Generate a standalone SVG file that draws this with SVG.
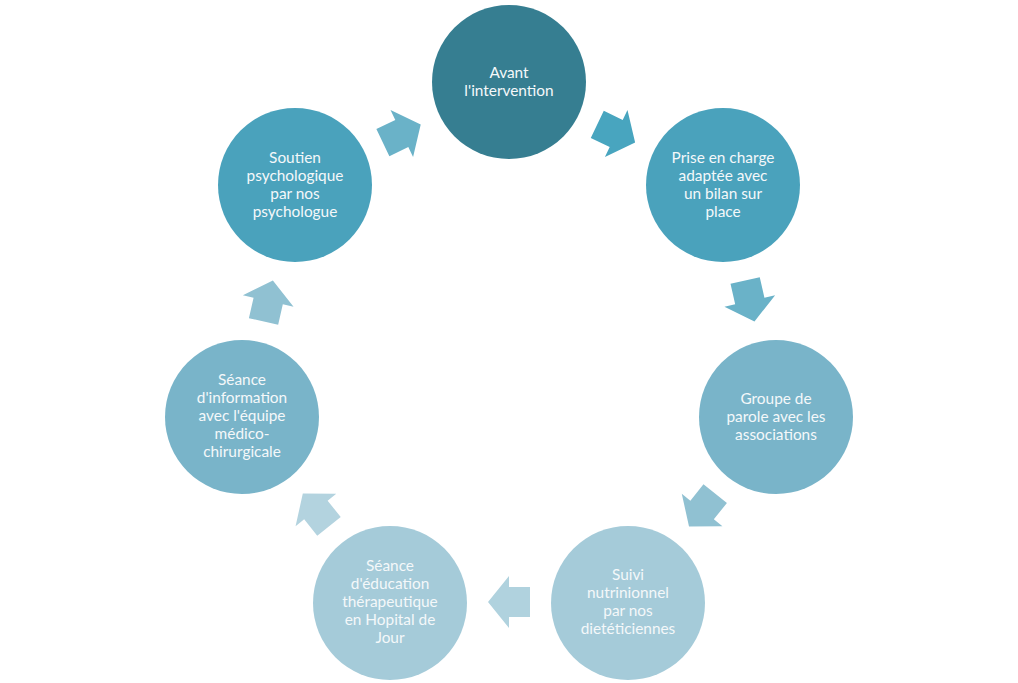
<svg xmlns="http://www.w3.org/2000/svg" xmlns:xlink="http://www.w3.org/1999/xlink" width="1018" height="683" viewBox="0 0 1018 683">
<style>
text{font-family:Lato,"Open Sans","Liberation Sans",sans-serif;font-size:15.4px;fill:#F4F8FA;text-anchor:middle}
</style>
<defs>
<polygon id="arr" points="-21,-15 0,-15 0,-26 21,0 0,26 0,15 -21,15"/>
</defs>
<rect width="1018" height="683" fill="#ffffff"/>
<g id="connectors">
<use xlink:href="#arr" transform="translate(616.2,133.5) rotate(25.71)" fill="#48A5BF"/>
<use xlink:href="#arr" transform="translate(749.8,301) rotate(77.14)" fill="#6AB2C8"/>
<use xlink:href="#arr" transform="translate(702.1,510) rotate(128.57)" fill="#90C1D2"/>
<use xlink:href="#arr" transform="translate(509,602) rotate(180)" fill="#B0D2DE"/>
<use xlink:href="#arr" transform="translate(315.9,510) rotate(231.43)" fill="#B3D3DF"/>
<use xlink:href="#arr" transform="translate(268.2,301) rotate(282.86)" fill="#90C1D2"/>
<use xlink:href="#arr" transform="translate(401.8,133.5) rotate(334.29)" fill="#6AB2C8"/>
</g>
<g id="node1">
<circle cx="509" cy="82" r="77" fill="#367E91"/>
<text x="509" y="77.5">Avant</text>
<text x="509" y="95.5">l'intervention</text>
</g>
<g id="node2">
<circle cx="723" cy="185" r="77" fill="#4AA2BC"/>
<text x="723" y="162.5">Prise en charge</text>
<text x="723" y="180.5">adaptée avec</text>
<text x="723" y="198.5">un bilan sur</text>
<text x="723" y="216.5">place</text>
</g>
<g id="node3">
<circle cx="776" cy="417" r="77" fill="#79B4C9"/>
<text x="776" y="403.5">Groupe de</text>
<text x="776" y="421.5">parole avec les</text>
<text x="776" y="439.5">associations</text>
</g>
<g id="node4">
<circle cx="628" cy="603" r="77" fill="#A5CBD9"/>
<text x="628" y="579.5">Suivi</text>
<text x="628" y="597.5">nutrinionnel</text>
<text x="628" y="615.5">par nos</text>
<text x="628" y="633.5">dietéticiennes</text>
</g>
<g id="node5">
<circle cx="390" cy="603" r="77" fill="#A5CBD9"/>
<text x="390" y="570.5">Séance</text>
<text x="390" y="588.5">d'éducation</text>
<text x="390" y="606.5">thérapeutique</text>
<text x="390" y="624.5">en Hopital de</text>
<text x="390" y="642.5">Jour</text>
</g>
<g id="node6">
<circle cx="242" cy="417" r="77" fill="#79B4C9"/>
<text x="242" y="384.5">Séance</text>
<text x="242" y="402.5">d'information</text>
<text x="242" y="420.5">avec l'équipe</text>
<text x="242" y="438.5">médico-</text>
<text x="242" y="456.5">chirurgicale</text>
</g>
<g id="node7">
<circle cx="295" cy="185" r="77" fill="#4AA2BC"/>
<text x="295" y="162.5">Soutien</text>
<text x="295" y="180.5">psychologique</text>
<text x="295" y="198.5">par nos</text>
<text x="295" y="216.5">psychologue</text>
</g>
</svg>
